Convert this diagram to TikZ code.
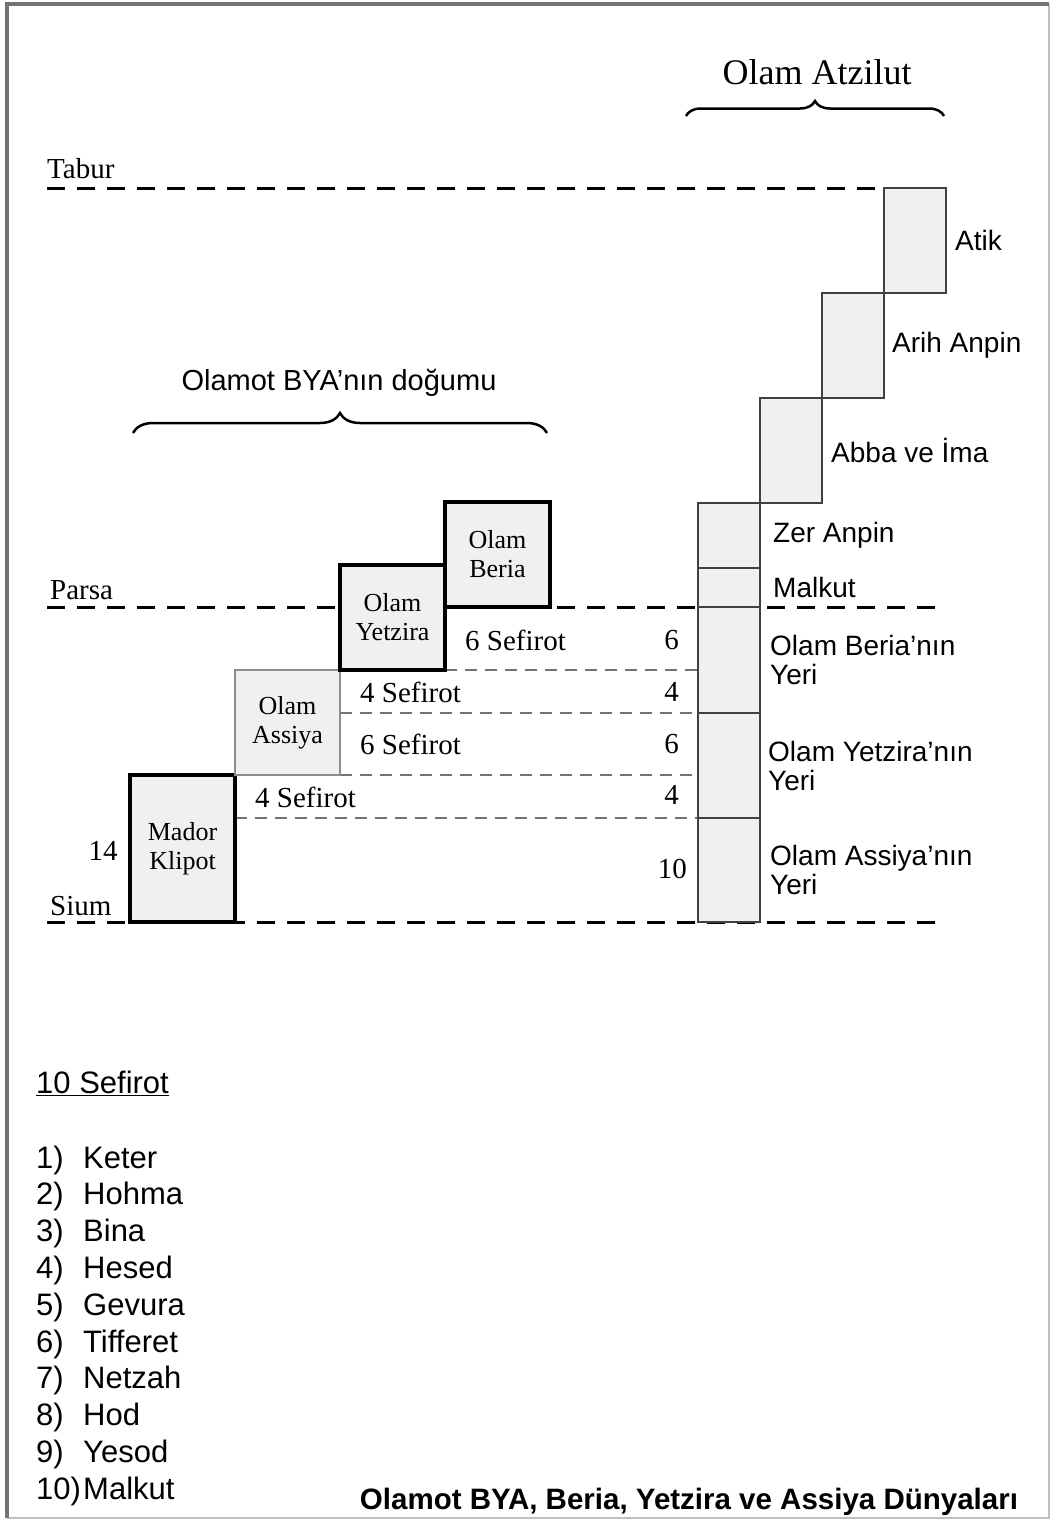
\documentclass[tikz,border=0pt]{standalone}
\usepackage{fontspec}
\setmainfont{Liberation Serif}
\setsansfont{Liberation Sans}
\usetikzlibrary{positioning, backgrounds, decorations.pathreplacing}

\tikzset{
  kutu/.style={draw, line width=4pt, fill=black!6, minimum width=105pt, minimum height=105pt,
    outer sep=0pt, inner sep=0pt, align=center, font=\fontsize{26}{29}\selectfont},
  ince/.style={kutu, draw=black!45, line width=2pt},
  sutun/.style={draw=black!75, line width=2pt, fill=black!6, minimum width=62pt,
    minimum height=105pt, outer sep=0pt, inner sep=0pt},
  cizgi/.style={dash pattern=on 18pt off 12pt, line width=3pt},
  arac/.style={dash pattern=on 12pt off 8pt, line width=2.5pt, draw=black!55},
  yazi/.style={font=\fontsize{29}{33}\selectfont, inner sep=0pt},
  etiket/.style={font=\sffamily\fontsize{28}{29}\selectfont, align=left, inner sep=0pt},
  liste/.style={font=\sffamily\fontsize{31}{37}\selectfont, inner sep=0pt, anchor=base west},
  kume/.style={decorate, decoration={brace, amplitude=#1}, line width=2.5pt},
}

\begin{document}
\begin{tikzpicture}[x=1pt, y=-1pt]
  % marco
  \useasboundingbox (0,0) rectangle (1051,1521);
  \draw[black!25, line width=2pt] (1049,4) -- (1049,1518) -- (7,1518);
  \draw[black!55, line width=4pt] (7,1518) -- (7,4) -- (1049,4);

  % cajas BYA
  \node[kutu, minimum height=147pt] (klipot) at (182.5,848.5) {Mador\\Klipot};
  \node[ince] (assiya) [above right=0pt of klipot] {Olam\\Assiya};
  \node[kutu] (yetzira) [above right=0pt of assiya] {Olam\\Yetzira};
  \coordinate (parsaL) at (47,607);
  \coordinate (parsaR) at (946,607);
  \node[kutu, anchor=south west] (beria) at (yetzira.east |- parsaR) {Olam\\Beria};

  % cajas Atzilut
  \node[sutun, anchor=north east] (atik) at (946,188) {};
  \node[sutun] (arih) [below left=0pt of atik] {};
  \node[sutun] (abba) [below left=0pt of arih] {};
  \node[sutun, minimum height=65pt] (zer) [below left=0pt of abba] {};
  \node[sutun, minimum height=39pt] (malkut) [below=0pt of zer] {};
  \node[sutun, minimum height=106pt] (beriaYeri) [below=0pt of malkut] {};
  \node[sutun] (yetziraYeri) [below=0pt of beriaYeri] {};
  \node[sutun, minimum height=104pt] (assiyaYeri) [below=0pt of yetziraYeri] {};

  % etiquetas Atzilut
  \node[etiket] (atikT) [right=9pt of atik] {Atik};
  \node[etiket] (arihT) [right=8pt of arih] {Arih Anpin};
  \node[etiket] (abbaT) [right=9pt of abba] {Abba ve İma};
  \node[etiket] (zerT) [right=13pt of zer] {Zer Anpin};
  \node[etiket] (malkutT) [right=13pt of malkut] {Malkut};
  \node[etiket] (beriaT) [right=10pt of beriaYeri] {Olam Beria'nın\\Yeri};
  \node[etiket] (yetziraT) [right=8pt of yetziraYeri] {Olam Yetzira'nın\\Yeri};
  \node[etiket] (assiyaT) [right=10pt of assiyaYeri] {Olam Assiya'nın\\Yeri};

  % niveles
  \coordinate (taburL) at (47,188);
  \coordinate (siumL) at (47,922);
  \coordinate (siumR) at (946,922);
  \node[yazi, anchor=base west] (tabur) at (47,178) {Tabur};
  \node[yazi, anchor=base west] (parsa) at (50,599) {Parsa};
  \node[yazi, anchor=base west] (sium) at (50,915) {Sium};
  \node[yazi] (n14) at (103,851) {14};

  % sefirot
  \node[yazi, anchor=west] (s6a) at (465,640) {6 Sefirot};
  \node[yazi, anchor=west] (s4a) at (360,692) {4 Sefirot};
  \node[yazi, anchor=west] (s6b) at (360,744) {6 Sefirot};
  \node[yazi, anchor=west] (s4b) at (255,797) {4 Sefirot};
  \node[yazi, anchor=east] (r6a) at (679,640) {6};
  \node[yazi, anchor=east] (r4a) at (679,692) {4};
  \node[yazi, anchor=east] (r6b) at (679,744) {6};
  \node[yazi, anchor=east] (r4b) at (679,795) {4};
  \node[yazi, anchor=east] (r10) at (687,869) {10};

  % llaves
  \node[yazi, font=\fontsize{36}{40}\selectfont] (atzilut) at (817,72) {Olam Atzilut};
  \coordinate (atzL) at (686,116);
  \coordinate (atzR) at (944,116);
  \draw[kume=15pt] (atzL) -- (atzR);
  \node[etiket, font=\sffamily\fontsize{29}{30}\selectfont] (bya) at (339,383) {Olamot BYA'nın doğumu};
  \coordinate (byaL) at (133,433);
  \coordinate (byaR) at (547,433);
  \draw[kume=20pt] (byaL) -- (byaR);

  % lineas
  \begin{scope}[on background layer]
    \draw[cizgi] (taburL) -- (atik.north west);
    \draw[cizgi] (parsaL) -- (parsaR);
    \draw[cizgi] (siumL) -- (siumR);
    \draw[arac] (yetzira.south east) -- (yetzira.south east -| beriaYeri.west);
    \draw[arac] (assiya.east |- beriaYeri.south) -- (beriaYeri.south west);
    \draw[arac] (assiya.south east) -- (assiya.south east -| yetziraYeri.west);
    \draw[arac] (klipot.east |- yetziraYeri.south) -- (yetziraYeri.south west);
  \end{scope}

  % lista
  \node[liste] (baslik10) at (36,1093) {\underline{10 Sefirot}};
  \foreach \ad [count=\i] in {Keter, Hohma, Bina, Hesed, Gevura, Tifferet, Netzah, Hod, Yesod, Malkut} {
    \node[liste] (no\i) at (36,1131.2+36.8*\i) {\i)};
    \node[liste] (sef\i) at (83,1131.2+36.8*\i) {\ad};
  }

  % titulo
  \node[font=\sffamily\bfseries\fontsize{29.5}{33}\selectfont, inner sep=0pt] (titulo) at (689,1502)
    {Olamot BYA, Beria, Yetzira ve Assiya Dünyaları};
\end{tikzpicture}
\end{document}
